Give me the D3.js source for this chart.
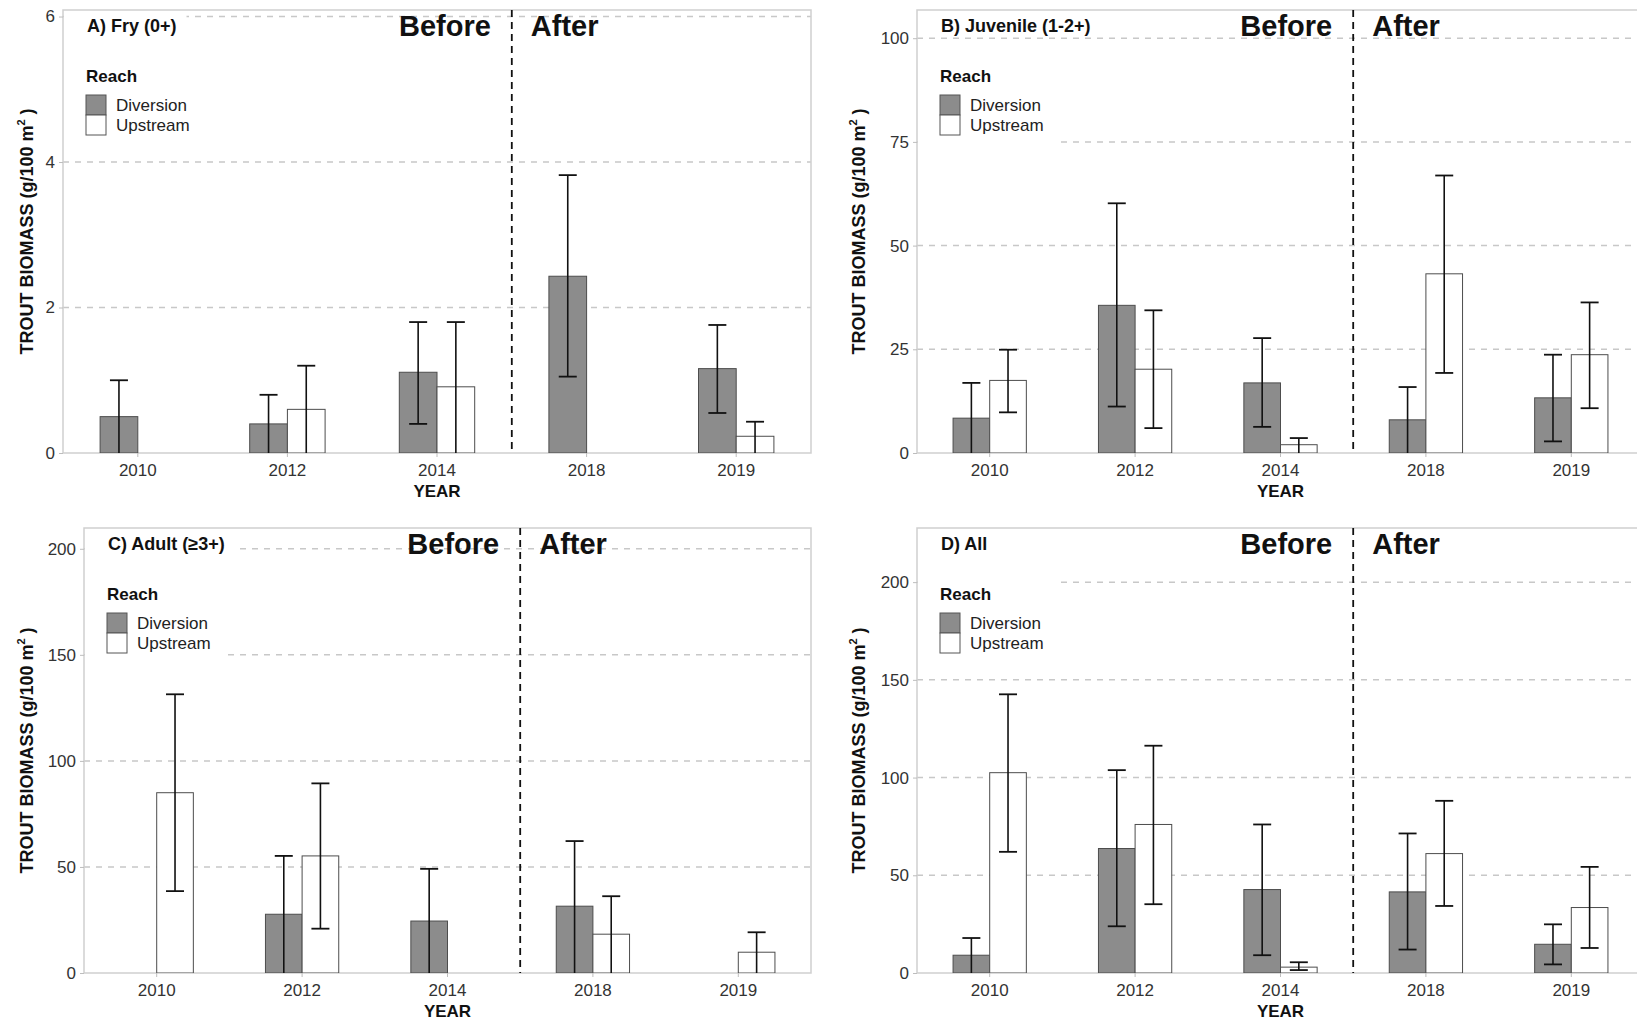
<!DOCTYPE html>
<html>
<head>
<meta charset="utf-8">
<script src="https://cdn.jsdelivr.net/npm/d3@7"></script>
<style>
body { margin: 0; background: #fff; }
svg text { font-family: "Liberation Sans", Arial, sans-serif; }
</style>
</head>
<body>
<svg id="chart" width="1637" height="1021"></svg>
<script>
//data
const years = ["2010", "2012", "2014", "2018", "2019"];
const reaches = ["Diversion", "Upstream"];

//A) fry
const fryDiv = [0.50, 0.40, 1.11, 2.43, 1.16];
const fryDivLow = [0, 0, 0.40, 1.05, 0.55];
const fryDivHigh = [1.00, 0.80, 1.80, 3.82, 1.76];
const fryUp = [null, 0.60, 0.91, null, 0.23];
const fryUpLow = [null, 0, 0, null, 0];
const fryUpHigh = [null, 1.20, 1.80, null, 0.43];
const fryTicks = [0, 2, 4, 6];

//B) juvenile
const juvDiv = [8.4, 35.6, 16.9, 8.0, 13.3];
const juvDivLow = [0, 11.2, 6.3, 0, 2.8];
const juvDivHigh = [16.9, 60.2, 27.7, 15.9, 23.7];
const juvUp = [17.5, 20.2, 2.0, 43.2, 23.7];
const juvUpLow = [9.8, 6.0, 0, 19.3, 10.8];
const juvUpHigh = [24.9, 34.4, 3.6, 66.9, 36.3];
const juvTicks = [0, 25, 50, 75, 100];

//C) adult
const adultDiv = [null, 27.7, 24.5, 31.5, null];
const adultDivLow = [null, 0, 0, 0, null];
const adultDivHigh = [null, 55.2, 49.1, 62.2, null];
const adultUp = [85.0, 55.2, null, 18.3, 9.8];
const adultUpLow = [38.6, 20.9, null, 0, 0];
const adultUpHigh = [131.4, 89.4, null, 36.2, 19.2];
const adultTicks = [0, 50, 100, 150, 200];

//D) all
const allDiv = [9.1, 63.7, 42.7, 41.5, 14.7];
const allDivLow = [0, 23.9, 9.1, 12.0, 4.4];
const allDivHigh = [17.9, 103.8, 76.0, 71.4, 24.9];
const allUp = [102.5, 76.0, 3.0, 61.1, 33.5];
const allUpLow = [62.0, 35.2, 1.5, 34.3, 12.8];
const allUpHigh = [142.6, 116.3, 5.5, 88.1, 54.3];
const allTicks = [0, 50, 100, 150, 200];

//panel layout
const panels = [
	{label: "A) Fry (0+)", left: 63, right: 811, top: 10, bottom: 453, yMax: 6.09, titleX: 33, ticks: fryTicks,
		div: [fryDiv, fryDivLow, fryDivHigh], up: [fryUp, fryUpLow, fryUpHigh]},
	{label: "B) Juvenile (1-2+)", left: 917, right: 1644, top: 10, bottom: 453, yMax: 106.8, titleX: 865, ticks: juvTicks,
		div: [juvDiv, juvDivLow, juvDivHigh], up: [juvUp, juvUpLow, juvUpHigh]},
	{label: "C) Adult (\u22653+)", left: 84, right: 811, top: 528, bottom: 973, yMax: 209.8, titleX: 33, ticks: adultTicks,
		div: [adultDiv, adultDivLow, adultDivHigh], up: [adultUp, adultUpLow, adultUpHigh]},
	{label: "D) All", left: 917, right: 1644, top: 528, bottom: 973, yMax: 227.7, titleX: 865, ticks: allTicks,
		div: [allDiv, allDivLow, allDivHigh], up: [allUp, allUpLow, allUpHigh]}
];

const fills = {Diversion: "#8c8c8c", Upstream: "#ffffff"};
const svg = d3.select("#chart");

const drawPanel = (p) => {
	const g = svg.append("g");
	const x = d3.scaleBand().domain(years).range([p.left, p.right]).padding(0);
	const y = d3.scaleLinear().domain([0, p.yMax]).range([p.bottom, p.top]);
	const bw = x.step() * 0.252;
	const sub = d3.scaleBand().domain(reaches).range([-bw, bw]);

	//rows of bars
	const rows = [];
	years.forEach((yr, i) => {
		[["Diversion", p.div], ["Upstream", p.up]].forEach(([r, s]) => {
			if (s[0][i] != null) rows.push({year: yr, reach: r, v: s[0][i], lo: s[1][i], hi: s[2][i]});
		});
	});

	const clipId = "clip" + p.left + "_" + p.top;
	svg.append("clipPath").attr("id", clipId)
		.append("rect").attr("x", p.left).attr("y", p.top)
		.attr("width", p.right - p.left).attr("height", p.bottom - p.top);

	//grid
	g.selectAll(".grid").data(p.ticks.filter(t => t > 0)).enter()
		.append("line")
		.attr("x1", p.left).attr("x2", p.right)
		.attr("y1", d => y(d)).attr("y2", d => y(d))
		.attr("stroke", "#c8c8c8").attr("stroke-width", 1.5)
		.attr("stroke-dasharray", "6,6");

	//border
	g.append("rect")
		.attr("x", p.left).attr("y", p.top)
		.attr("width", p.right - p.left).attr("height", p.bottom - p.top)
		.attr("fill", "none").attr("stroke", "#cfcfcf").attr("stroke-width", 1.5);

	//before / after split
	const splitX = x("2018");
	g.append("line")
		.attr("x1", splitX).attr("x2", splitX)
		.attr("y1", p.top).attr("y2", p.bottom)
		.attr("stroke", "#111").attr("stroke-width", 1.8)
		.attr("stroke-dasharray", "7,5");

	const plot = g.append("g").attr("clip-path", `url(#${clipId})`);

	plot.selectAll(".bar").data(rows).enter()
		.append("rect")
		.attr("x", d => x(d.year) + x.bandwidth() / 2 + sub(d.reach))
		.attr("y", d => y(d.v))
		.attr("width", sub.bandwidth())
		.attr("height", d => y(0) - y(d.v))
		.attr("fill", d => fills[d.reach])
		.attr("stroke", "#4d4d4d").attr("stroke-width", 1);

	//error bars
	const cx = d => x(d.year) + x.bandwidth() / 2 + sub(d.reach) + sub.bandwidth() / 2;
	const cap = 9;
	plot.selectAll(".err").data(rows).enter()
		.append("line")
		.attr("x1", cx).attr("x2", cx)
		.attr("y1", d => y(d.lo)).attr("y2", d => y(d.hi))
		.attr("stroke", "#111").attr("stroke-width", 1.6);
	plot.selectAll(".capHi").data(rows).enter()
		.append("line")
		.attr("x1", d => cx(d) - cap).attr("x2", d => cx(d) + cap)
		.attr("y1", d => y(d.hi)).attr("y2", d => y(d.hi))
		.attr("stroke", "#111").attr("stroke-width", 1.8);
	plot.selectAll(".capLo").data(rows.filter(d => d.lo > 0)).enter()
		.append("line")
		.attr("x1", d => cx(d) - cap).attr("x2", d => cx(d) + cap)
		.attr("y1", d => y(d.lo)).attr("y2", d => y(d.lo))
		.attr("stroke", "#111").attr("stroke-width", 1.8);

	//axes
	const yAxis = g.append("g")
		.attr("transform", `translate(${p.left},0)`)
		.call(d3.axisLeft(y).tickValues(p.ticks).tickFormat(d3.format("d")).tickSize(4).tickPadding(4));
	const xAxis = g.append("g")
		.attr("transform", `translate(0,${p.bottom})`)
		.call(d3.axisBottom(x).tickSize(4).tickPadding(4));
	[yAxis, xAxis].forEach(a => {
		a.select(".domain").remove();
		a.selectAll(".tick line").attr("stroke", "#bdbdbd");
		a.selectAll(".tick text").attr("fill", "#333").attr("font-size", 17)
			.attr("font-family", "'Liberation Sans', Arial, sans-serif");
	});
	xAxis.selectAll(".tick text").attr("dy", "0.9em");

	g.append("text")
		.attr("x", (p.left + p.right) / 2).attr("y", p.bottom + 44)
		.attr("text-anchor", "middle").attr("font-size", 17).attr("font-weight", "bold")
		.attr("fill", "#111").text("YEAR");

	const ty = g.append("text")
		.attr("transform", `translate(${p.titleX},${(p.top + p.bottom) / 2}) rotate(-90)`)
		.attr("text-anchor", "middle").attr("font-size", 18).attr("font-weight", "bold")
		.attr("fill", "#111");
	ty.append("tspan").text("TROUT BIOMASS (g/100 m");
	ty.append("tspan").attr("font-size", 11).attr("dy", -8).text("2");
	ty.append("tspan").attr("dy", 8).text(" )");

	//panel label with white box
	const lab = g.append("text")
		.attr("x", p.left + 24).attr("y", p.top + 22)
		.attr("font-size", 18).attr("font-weight", "bold").attr("fill", "#111")
		.text(p.label);
	const lw = lab.node().getComputedTextLength();
	g.insert("rect", () => lab.node())
		.attr("x", p.left + 1).attr("y", p.top + 3)
		.attr("width", lw + 33).attr("height", 23)
		.attr("fill", "#fff");

	//legend
	const leg = g.append("g");
	leg.append("rect")
		.attr("x", p.left + 1).attr("y", p.top + 50)
		.attr("width", 137).attr("height", 84).attr("fill", "#fff");
	leg.append("text")
		.attr("x", p.left + 23).attr("y", p.top + 72)
		.attr("font-size", 17).attr("font-weight", "bold").attr("fill", "#111")
		.text("Reach");
	leg.selectAll(".key").data(reaches).enter()
		.append("rect")
		.attr("x", p.left + 23).attr("y", (d, i) => p.top + 85 + i * 20)
		.attr("width", 20).attr("height", 20)
		.attr("fill", d => fills[d]).attr("stroke", "#555").attr("stroke-width", 1);
	leg.selectAll(".keyText").data(reaches).enter()
		.append("text")
		.attr("x", p.left + 53).attr("y", (d, i) => p.top + 101 + i * 20)
		.attr("font-size", 17).attr("fill", "#222")
		.text(d => d);

	//before / after labels
	g.append("text")
		.attr("x", splitX - 21).attr("y", p.top + 26)
		.attr("text-anchor", "end").attr("font-size", 29).attr("font-weight", "bold")
		.attr("fill", "#111").text("Before");
	g.append("text")
		.attr("x", splitX + 19).attr("y", p.top + 26)
		.attr("font-size", 29).attr("font-weight", "bold")
		.attr("fill", "#111").text("After");
};

panels.forEach(drawPanel);
</script>
</body>
</html>
